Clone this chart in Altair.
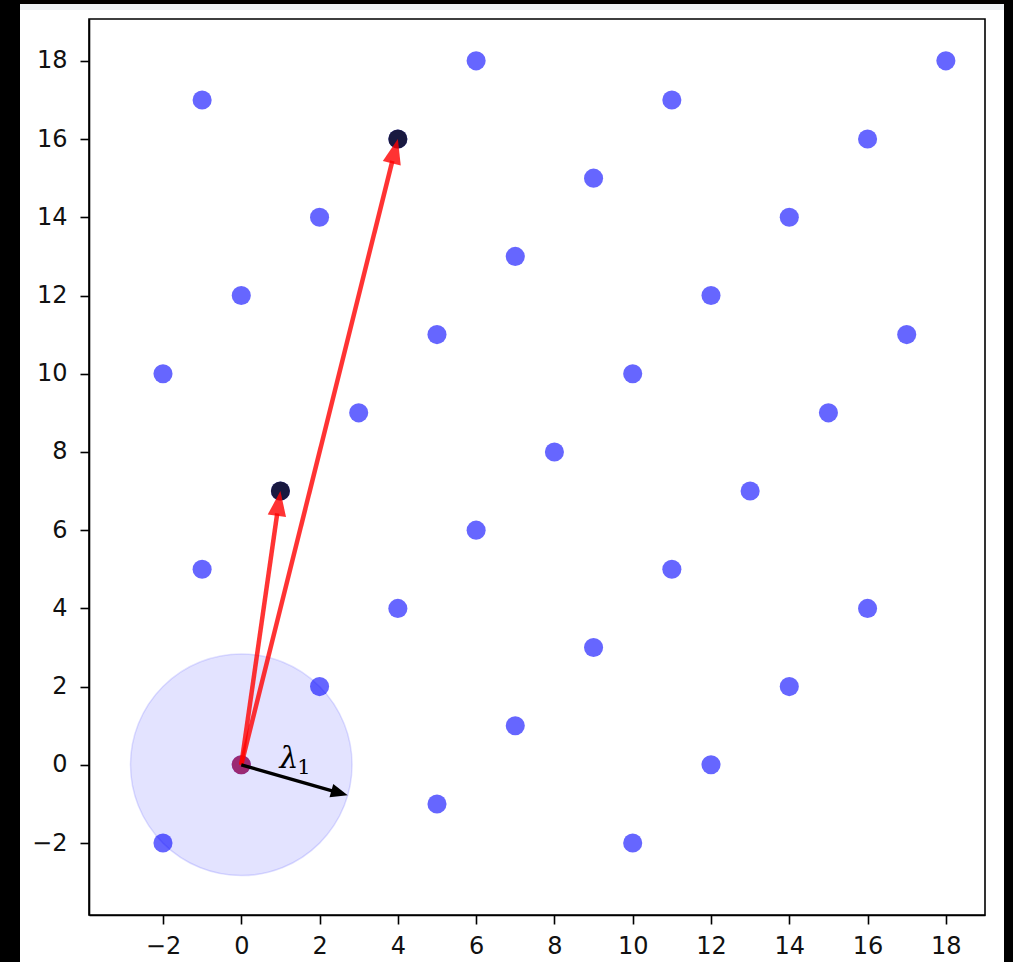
import math
import altair as alt
import pandas as pd

# ---- data ----
lattice_x = [-1, 6, 18, 11, 4, 16, 9, 2, 14, 7, 0, 12, 5, 17, -2, 10, 3, 15, 8,
             1, 13, 6, -1, 11, 4, 16, 9, 2, 14, 7, 0, 12, 5, -2, 10]
lattice_y = [17, 18, 18, 17, 16, 16, 15, 14, 14, 13, 12, 12, 11, 11, 10, 10, 9, 9, 8,
             7, 7, 6, 5, 5, 4, 4, 3, 2, 2, 1, 0, 0, -1, -2, -2]
highlight_x = [1, 4]
highlight_y = [7, 16]
origin_x = [0]
origin_y = [0]
red_end_x = [1, 4]
red_end_y = [7, 16]
black_end_x = [2.72]
black_end_y = [-0.78]
circle_radius = [2.83]
label_x = [1.22]
label_y = [0.15]
label_main = ["λ"]
label_sub = ["1"]
tick_values = [-2, 0, 2, 4, 6, 8, 10, 12, 14, 16, 18]

# ---- layout ----
W = H = 896
XDOM = [-3.89, 19.0]
YDOM = [-3.84, 19.07]
PX = W / (XDOM[1] - XDOM[0])

xs = alt.Scale(domain=XDOM, nice=False, zero=False)
ys = alt.Scale(domain=YDOM, nice=False, zero=False)
xax = alt.Axis(values=tick_values, title=None, grid=False, zindex=1)
yax = alt.Axis(values=tick_values, title=None, grid=False, zindex=1)


def X(f="x"):
    return alt.X(f"{f}:Q", scale=xs, axis=xax)


def Y(f="y"):
    return alt.Y(f"{f}:Q", scale=ys, axis=yax)


one = pd.DataFrame({"a": [0]})
# black picture border outside the white figure
left_bar = alt.Chart(one).mark_rect(color="black").encode(
    x=alt.value(-89), x2=alt.value(-69), y=alt.value(-19), y2=alt.value(943))
right_bar = alt.Chart(one).mark_rect(color="black").encode(
    x=alt.value(915), x2=alt.value(924), y=alt.value(-19), y2=alt.value(943))
top_bar = alt.Chart(one).mark_rect(color="black").encode(
    x=alt.value(-89), x2=alt.value(924), y=alt.value(-19), y2=alt.value(-15))
band = alt.Chart(one).mark_rect(color="#eef2f6").encode(
    x=alt.value(-69), x2=alt.value(915), y=alt.value(-15), y2=alt.value(-9))

circ_df = pd.DataFrame({"x": origin_x, "y": origin_y, "r": circle_radius})
d = 2 * circle_radius[0] * PX
circle = alt.Chart(circ_df).mark_circle(
    size=d * d, color="#0000ff", opacity=1, fillOpacity=0.11, stroke="#0000ff",
    strokeWidth=1.5, strokeOpacity=0.12).encode(x=X(), y=Y())

pts_df = pd.DataFrame({"x": lattice_x, "y": lattice_y})
PSIZE = 365
pts = alt.Chart(pts_df).mark_circle(size=PSIZE, color="#0000ff", opacity=0.6).encode(x=X(), y=Y())

hi_df = pd.DataFrame({"x": highlight_x, "y": highlight_y})
hi = alt.Chart(hi_df).mark_circle(size=PSIZE, color="black", opacity=0.75).encode(x=X(), y=Y())

or_df = pd.DataFrame({"x": origin_x, "y": origin_y})
orig = alt.Chart(or_df).mark_circle(size=PSIZE, color="#d00000", opacity=0.55).encode(x=X(), y=Y())


def arrow_frames(ex, ey, head_len_px):
    rows = []
    for x1, y1 in zip(ex, ey):
        L = math.hypot(x1, y1)
        ux, uy = x1 / L, y1 / L
        hl = head_len_px / PX
        rows.append({"x": 0.0, "y": 0.0, "x2": x1 - ux * hl * 0.9, "y2": y1 - uy * hl * 0.9,
                     "hx": x1, "hy": y1, "ang": math.degrees(math.atan2(x1, y1))})
    return pd.DataFrame(rows)


RED_HL = 25
red_df = arrow_frames(red_end_x, red_end_y, RED_HL)
red_shaft = alt.Chart(red_df).mark_rule(color="red", opacity=0.8, strokeWidth=4.5).encode(
    x=X(), y=Y(), x2="x2:Q", y2="y2:Q")
red_head = alt.Chart(red_df).mark_point(
    shape="M0,0L0.37,1L-0.37,1Z", filled=True, color="red", opacity=0.8,
    size=(2 * RED_HL) ** 2, strokeWidth=0).encode(
    x=X("hx"), y=Y("hy"), angle=alt.Angle("ang:Q", scale=None))

BLK_HL = 17
blk_df = arrow_frames(black_end_x, black_end_y, BLK_HL)
blk_shaft = alt.Chart(blk_df).mark_rule(color="black", strokeWidth=3.5).encode(
    x=X(), y=Y(), x2="x2:Q", y2="y2:Q")
blk_head = alt.Chart(blk_df).mark_point(
    shape="M0,0L0.4,1L-0.4,1Z", filled=True, color="black", opacity=1,
    size=(2 * BLK_HL) ** 2, strokeWidth=0).encode(
    x=X("hx"), y=Y("hy"), angle=alt.Angle("ang:Q", scale=None))

lab_df = pd.DataFrame({"x": label_x, "y": label_y, "t": label_main, "s": label_sub})
lab = alt.Chart(lab_df).mark_text(
    font="DejaVu Serif", fontStyle="italic", fontSize=30, color="black",
    align="center", baseline="middle").encode(x=X(), y=Y(), text="t:N")
lab_sub = alt.Chart(lab_df).mark_text(
    font="DejaVu Serif", fontSize=21, color="black", dx=15, dy=9,
    align="center", baseline="middle").encode(x=X(), y=Y(), text="s:N")

chart = alt.layer(
    left_bar, right_bar, top_bar, band, circle, pts, hi, orig,
    red_shaft, red_head, blk_shaft, blk_head, lab, lab_sub
).properties(
    width=W, height=H,
    autosize=alt.AutoSizeParams(type="none"),
    padding={"left": 89, "top": 19, "right": 28, "bottom": 47},
).configure(background="white").configure_view(
    fill="white", stroke="black", strokeWidth=1.6
).configure_axis(
    labelFont="DejaVu Sans", labelFontSize=24, labelColor="#111",
    tickColor="black", tickSize=9, tickWidth=1.6, domainColor="black", domainWidth=1.6,
    labelPadding=12
).configure_axisX(labelPadding=10).configure_axisY(labelPadding=13)

chart.save("out.html", embed_options={"renderer": "svg", "actions": False})
